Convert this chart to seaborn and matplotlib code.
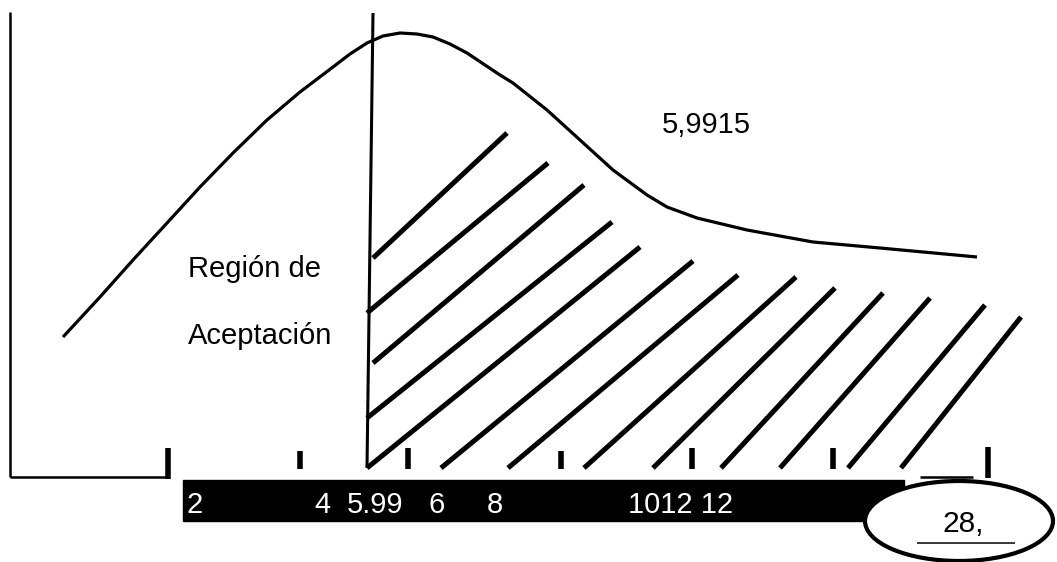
import pandas as pd
import matplotlib.pyplot as plt
from matplotlib.patches import Rectangle, Ellipse
import seaborn as sns

# Región de aceptación / rechazo - chi cuadrado (dibujo a mano)
# coordenadas (pixeles, y hacia abajo)

curve_x = [63, 100, 133, 167, 200, 233, 267, 300, 333, 350, 367, 383, 400, 417, 433,
           450, 467, 500, 513, 547, 580, 613, 647, 667, 697, 747, 813, 880, 977]
curve_y = [337, 297, 260, 223, 187, 153, 120, 92, 67, 54, 43, 36, 33, 34, 37,
           44, 53, 75, 83, 110, 140, 170, 195, 207, 218, 230, 242, 248, 257]

crit_x = [373, 367]
crit_y = [13, 468]

hatch_top_x = [507, 548, 584, 612, 640, 693, 738, 796, 835, 883, 930, 985, 1021]
hatch_top_y = [133, 163, 185, 222, 247, 261, 275, 277, 288, 293, 298, 305, 317]
hatch_bot_x = [373, 367, 373, 367, 367, 441, 508, 584, 653, 721, 780, 848, 901]
hatch_bot_y = [258, 313, 363, 418, 468, 468, 468, 468, 468, 468, 468, 468, 468]

tick_x = [168, 300, 408, 561, 692, 833, 988]
tick_top = [448, 451, 448, 451, 448, 448, 447]
tick_bot = [479, 469, 469, 469, 469, 469, 478]

box_labels = ["2", "4", "5.99", "6", "8", "1012 12"]
box_label_x = [187, 314, 347, 428, 487, 628]

sns.set_style("white")
plt.rcParams['font.family'] = ['Liberation Sans', 'DejaVu Sans']
plt.rcParams['lines.solid_capstyle'] = 'butt'
plt.rcParams['text.color'] = 'black'

fig = plt.figure(figsize=(10.57, 5.62), dpi=100)
ax = fig.add_axes([0, 0, 1, 1])

# ejes dibujados
ax.plot([10, 10], [12, 477], color='black', lw=1.8)
ax.plot([10, 167], [477, 477], color='black', lw=1.8)

# curva
curve_df = pd.DataFrame({'x': curve_x, 'y': curve_y})
sns.lineplot(data=curve_df, x='x', y='y', sort=False, color='black', lw=2.3, ax=ax)

# valor critico
sns.lineplot(x=crit_x, y=crit_y, sort=False, color='black', lw=2.2, ax=ax)

# rayado de la region de rechazo
rows = []
for i in range(len(hatch_top_x)):
    rows.append({'x': hatch_bot_x[i], 'y': hatch_bot_y[i], 'seg': i})
    rows.append({'x': hatch_top_x[i], 'y': hatch_top_y[i], 'seg': i})
hatch_df = pd.DataFrame(rows)
sns.lineplot(data=hatch_df, x='x', y='y', units='seg', estimator=None, sort=False,
             color='black', lw=3.6, ax=ax)

# marcas
ax.vlines(tick_x, tick_top, tick_bot, color='black', lw=4)
ax.plot([920, 973], [477, 477], color='black', lw=1.8)

# barra negra con valores
ax.add_patch(Rectangle((183, 480), 721, 41, color='black', zorder=3))
for lab, xx in zip(box_labels, box_label_x):
    ax.text(xx, 513, lab, color='white', fontsize=21, va='baseline', ha='left', zorder=4)

# ovalo
ax.add_patch(Ellipse((959, 521), 188, 80, facecolor='white', edgecolor='black', lw=3, zorder=5))
ax.text(942, 532, "28,", fontsize=21.5, va='baseline', ha='left', zorder=6)
ax.plot([917, 1015], [543, 543], color='black', lw=1.1, zorder=6)

# textos
ax.text(188, 277, "Región de", fontsize=21, va='baseline', ha='left')
ax.text(188, 344, "Aceptación", fontsize=21, va='baseline', ha='left')
ax.text(662, 133, "5,9915", fontsize=21, va='baseline', ha='left')

ax.set_xlim(0, 1057)
ax.set_ylim(562, 0)
ax.axis('off')

plt.savefig('out.png', dpi=100)
